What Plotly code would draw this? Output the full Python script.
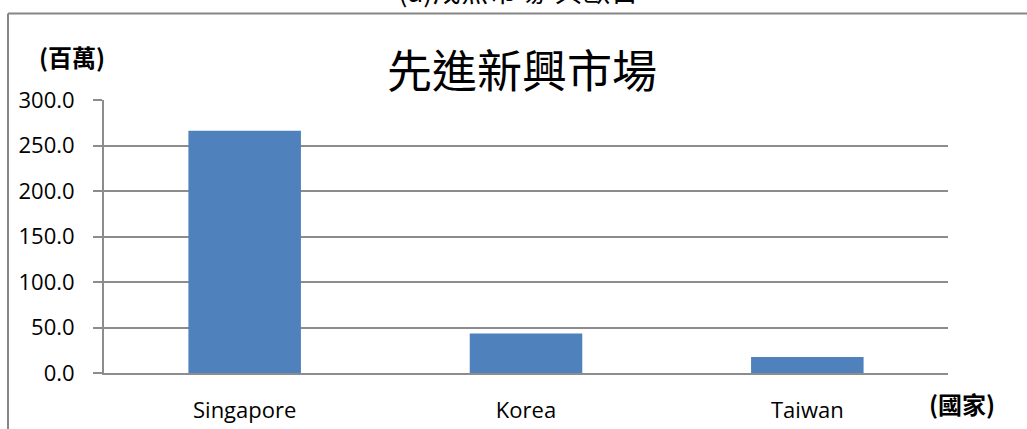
import plotly.graph_objects as go

# Data (millions)
countries = ["Singapore", "Korea", "Taiwan"]
values = [266.2, 43.4, 17.6]
y_ticks = [0, 50, 100, 150, 200, 250, 300]
y_tick_labels = ["0.0", "50.0", "100.0", "150.0", "200.0", "250.0", "300.0"]

W, H = 1027, 429
L, R, T, B = 104, 948, 100, 373  # plot area in pixels

def px(x):
    return (x - L) / (R - L)

def py(y):
    return (B - y) / (B - T)

fig = go.Figure(
    go.Bar(
        x=countries,
        y=values,
        marker=dict(color="#4F81BD", line=dict(width=0)),
        width=0.4,
    )
)

grid = "#8C8C8C"
tick_font = dict(family="Open Sans, Liberation Sans, sans-serif", size=22, color="#000000")
cjk_bold = dict(family="Noto Sans CJK TC", size=24, color="#000000")

fig.update_layout(
    width=W,
    height=H,
    margin=dict(l=L, r=W - R, t=T, b=H - B),
    paper_bgcolor="white",
    plot_bgcolor="white",
    showlegend=False,
    bargap=0.6,
    xaxis=dict(
        showgrid=False,
        showline=True,
        linecolor=grid,
        linewidth=2,
        ticks="",
        tickfont=tick_font,
        ticklabelstandoff=17,
        automargin=False,
    ),
    yaxis=dict(
        range=[0, 300],
        tickvals=y_ticks,
        ticktext=y_tick_labels,
        showgrid=True,
        gridcolor=grid,
        gridwidth=1.5,
        showline=True,
        linecolor=grid,
        linewidth=2,
        ticks="outside",
        ticklen=9,
        tickcolor=grid,
        tickwidth=1.5,
        tickfont=tick_font,
        ticklabelstandoff=14,
        zeroline=False,
        automargin=False,
    ),
    annotations=[
        dict(
            text="先進新興市場",
            x=px(522), y=py(68), xref="paper", yref="paper",
            showarrow=False, xanchor="center", yanchor="middle",
            font=dict(family="Noto Sans CJK TC", size=45, color="#000000"),
        ),
        dict(
            text="<b>(百萬)</b>",
            x=px(72), y=py(57), xref="paper", yref="paper",
            showarrow=False, xanchor="center", yanchor="middle",
            font=cjk_bold,
        ),
        dict(
            text="<b>(國家)</b>",
            x=px(962), y=py(403), xref="paper", yref="paper",
            showarrow=False, xanchor="center", yanchor="middle",
            font=cjk_bold,
        ),
        dict(
            text="(a)成熟市場-與歐日",
            x=px(518), y=py(12), xref="paper", yref="paper",
            showarrow=False, xanchor="center", yanchor="bottom",
            font=dict(family="Noto Sans CJK TC", size=28, color="#000000"),
        ),
    ],
    shapes=[
        dict(type="line", xref="paper", yref="paper",
             x0=px(8), x1=px(W + 5), y0=py(13.5), y1=py(13.5),
             line=dict(color="#868686", width=2)),
        dict(type="line", xref="paper", yref="paper",
             x0=px(8), x1=px(8), y0=py(13.5), y1=py(H + 5),
             line=dict(color="#868686", width=2)),
    ],
)

fig.write_html("out.html")
